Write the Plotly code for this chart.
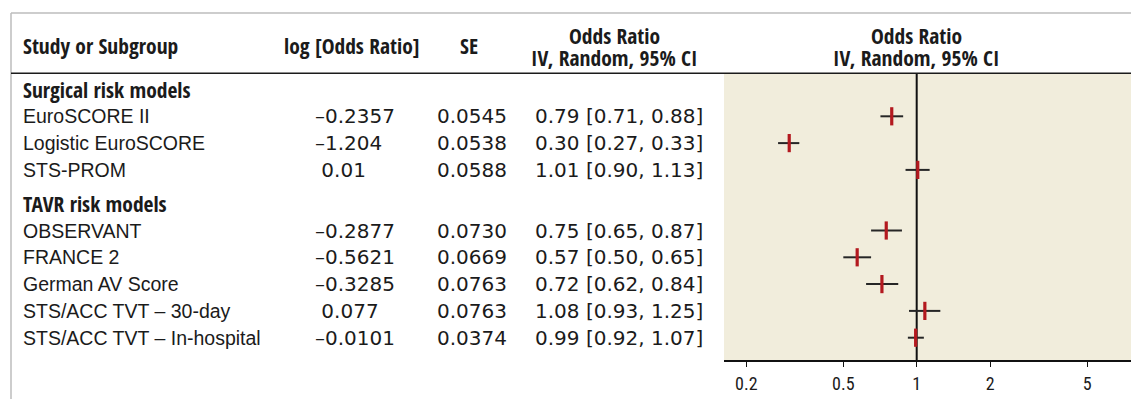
import plotly.graph_objects as go

# ---- data -------------------------------------------------------------
groups = ["Surgical risk models", "TAVR risk models"]
studies = [
    "EuroSCORE II", "Logistic EuroSCORE", "STS-PROM",
    "OBSERVANT", "FRANCE 2", "German AV Score",
    "STS/ACC TVT \u2013 30-day", "STS/ACC TVT \u2013 In-hospital",
]
study_group = [0, 0, 0, 1, 1, 1, 1, 1]
log_or = [-0.2357, -1.204, 0.01, -0.2877, -0.5621, -0.3285, 0.077, -0.0101]
se = [0.0545, 0.0538, 0.0588, 0.0730, 0.0669, 0.0763, 0.0763, 0.0374]
odds_ratio = [0.79, 0.30, 1.01, 0.75, 0.57, 0.72, 1.08, 0.99]
ci_low = [0.71, 0.27, 0.90, 0.65, 0.50, 0.62, 0.93, 0.92]
ci_high = [0.88, 0.33, 1.13, 0.87, 0.65, 0.84, 1.25, 1.07]
tick_vals = [0.2, 0.5, 1, 2, 5]
tick_text = ["0.2", "0.5", "1", "2", "5"]

# ---- page geometry (pixels) -----------------------------------------
W, H = 1131, 399
FIRST_ROW, ROW_STEP, GROUP_GAP = 89.5, 26.8, 7.0
HEADER_LINE, AXIS_Y, TOP_BORDER, LEFT_BORDER = 73.3, 361, 13, 11
PLOT_LEFT = 724
PX_PER_DECADE = 243.8
ONE_X = 916.7

# vertical position of every row: group headers followed by their studies
group_y, study_y = [], []
y = FIRST_ROW
for g in range(len(groups)):
    if g > 0:
        y += GROUP_GAP
    group_y.append(y)
    y += ROW_STEP
    for i, sg in enumerate(study_group):
        if sg == g:
            study_y.append(y)
            y += ROW_STEP

NAME_FONT = "Liberation Sans, Arial, Helvetica, sans-serif"
NUM_FONT = "DejaVu Sans, Verdana, sans-serif"
HEAD_FONT = "Open Sans Condensed, Roboto Condensed, DejaVu Sans Condensed, sans-serif"
TICK_FONT = "Roboto Condensed, Open Sans Condensed, sans-serif"
TXT = "#1b1b1b"


def px(xp):
    return xp / W


annotations = []


def add_text(x, y, text, anchor="left", bold=False, size=19.5, family=NAME_FONT):
    annotations.append(dict(
        x=px(x), xref="paper", y=y, yref="y", text=f"<b>{text}</b>" if bold else text,
        showarrow=False, xanchor=anchor, yanchor="middle",
        font=dict(family=family, size=size, color=TXT),
    ))


def head(x, y, text, anchor="center"):
    add_text(x, y, text, anchor=anchor, bold=True, size=21.5, family=HEAD_FONT)


# column headers
hy, hy1, hy2 = 45.5, 35, 57
head(21, hy, "Study or Subgroup", anchor="left")
head(352, hy, "log [Odds Ratio]")
head(469, hy, "SE")
for cx in (614, ONE_X):
    head(cx, hy1, "Odds Ratio")
    head(cx, hy2, "IV, Random, 95% CI")

# group labels
for g, gy in zip(groups, group_y):
    head(21, gy, g, anchor="left")

# study rows
for i, sy in enumerate(study_y):
    add_text(21, sy, studies[i])
    lo_txt = repr(log_or[i])
    lo_txt = lo_txt.replace("-", "\u2013") if log_or[i] < 0 else "\u00a0" + lo_txt
    add_text(313, sy, lo_txt, size=20, family=NUM_FONT)
    add_text(435, sy, f"{se[i]:.4f}", size=20, family=NUM_FONT)
    add_text(705, sy, f"{odds_ratio[i]:.2f} [{ci_low[i]:.2f}, {ci_high[i]:.2f}]",
             anchor="right", size=20, family=NUM_FONT)

# ---- forest plot -----------------------------------------------------
x_lo = (PLOT_LEFT - ONE_X) / PX_PER_DECADE
x_hi = (W - ONE_X) / PX_PER_DECADE

fig = go.Figure()
fig.add_trace(go.Scatter(
    x=odds_ratio, y=study_y, mode="markers",
    marker=dict(symbol="line-ns", size=13, color="#B3191F",
                line=dict(width=3.2, color="#B3191F")),
    error_x=dict(type="data", symmetric=False,
                 array=[h - o for h, o in zip(ci_high, odds_ratio)],
                 arrayminus=[o - l for o, l in zip(odds_ratio, ci_low)],
                 width=0, thickness=2, color="#262626"),
    hoverinfo="skip", showlegend=False,
))

shapes = [
    # shaded plotting panel
    dict(type="rect", xref="x domain", x0=0, x1=1, yref="y", y0=HEADER_LINE, y1=AXIS_Y,
         fillcolor="#F1EDDC", line_width=0, layer="below"),
    # line of no effect
    dict(type="line", xref="x", x0=1, x1=1, yref="y", y0=HEADER_LINE, y1=AXIS_Y,
         line=dict(color="#111111", width=2), layer="below"),
    # outer frame
    dict(type="line", xref="paper", x0=px(LEFT_BORDER), x1=1, yref="y",
         y0=TOP_BORDER, y1=TOP_BORDER, line=dict(color="#BDBDBD", width=1.5)),
    dict(type="line", xref="paper", x0=px(LEFT_BORDER), x1=px(LEFT_BORDER), yref="y",
         y0=TOP_BORDER, y1=H, line=dict(color="#BDBDBD", width=1.5)),
    # header rule
    dict(type="line", xref="paper", x0=px(LEFT_BORDER), x1=1, yref="y",
         y0=HEADER_LINE, y1=HEADER_LINE, line=dict(color="#1b1b1b", width=1.5)),
]

fig.update_layout(
    width=W, height=H, margin=dict(l=0, r=0, t=0, b=0),
    paper_bgcolor="white", plot_bgcolor="rgba(0,0,0,0)",
    xaxis=dict(
        type="log", range=[x_lo, x_hi], domain=[px(PLOT_LEFT), 1],
        anchor="free", position=(H - AXIS_Y) / H,
        showline=True, linecolor="#111111", linewidth=1.5,
        ticks="outside", ticklen=5, tickwidth=1.2, tickcolor="#111111",
        tickvals=tick_vals, ticktext=tick_text, showgrid=False, zeroline=False,
        tickfont=dict(family=TICK_FONT, size=18, color=TXT), ticklabelstandoff=2,
    ),
    yaxis=dict(range=[H, 0], domain=[0, 1], visible=False, fixedrange=True),
    shapes=shapes, annotations=annotations,
)

fig.write_html("out.html")
